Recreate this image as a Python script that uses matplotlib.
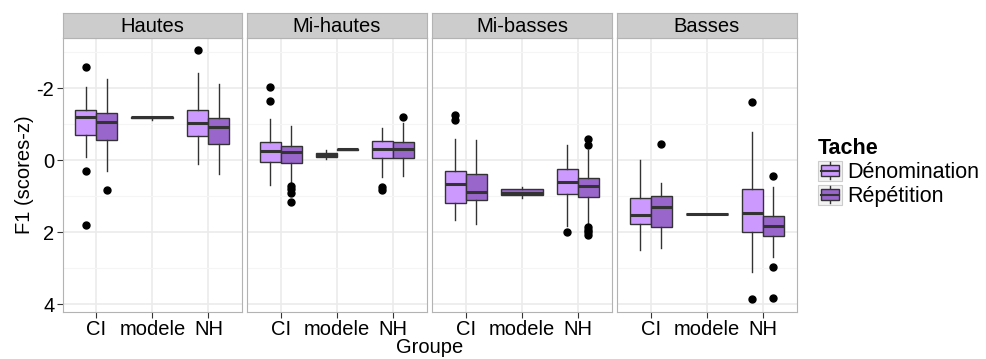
import matplotlib
matplotlib.use('Agg')
import matplotlib.pyplot as plt
from matplotlib.patches import Patch, Rectangle
from matplotlib.lines import Line2D
from matplotlib.legend_handler import HandlerBase

plt.rcParams['font.family'] = ['Liberation Sans', 'DejaVu Sans']

panels = ['Hautes', 'Mi-hautes', 'Mi-basses', 'Basses']
groupes = ['CI', 'modele', 'NH']
taches = ['Dénomination', 'Répétition']
fill_colors = {'Dénomination': '#CC99FF', 'Répétition': '#9966CC'}

# (groupe, tache, whislo, q1, med, q3, whishi, outliers)
hautes = [
    ('CI', 'Dénomination', -2.03, -1.40, -1.22, -0.71, -0.11, [-2.59, 0.28, 1.78]),
    ('CI', 'Répétition', -2.26, -1.31, -1.08, -0.57, 0.28, [0.81]),
    ('modele', 'Dénomination', -1.22, -1.21, -1.20, -1.18, -1.13, []),
    ('NH', 'Dénomination', -2.44, -1.41, -1.04, -0.67, 0.10, [-3.07]),
    ('NH', 'Répétition', -2.13, -1.18, -0.92, -0.46, 0.37, []),
]
mi_hautes = [
    ('CI', 'Dénomination', -1.15, -0.52, -0.25, 0.04, 0.69, [-2.03, -1.64]),
    ('CI', 'Répétition', -0.97, -0.41, -0.24, 0.06, 0.61, [0.70, 0.80, 0.89, 1.15]),
    ('modele', 'Dénomination', -0.28, -0.22, -0.16, -0.09, -0.04, []),
    ('modele', 'Répétition', -0.32, -0.31, -0.31, -0.30, -0.30, []),
    ('NH', 'Dénomination', -0.90, -0.53, -0.33, -0.07, 0.46, [0.74, 0.81]),
    ('NH', 'Répétition', -1.04, -0.50, -0.32, -0.07, 0.44, [-1.20]),
]
mi_basses = [
    ('CI', 'Dénomination', -0.59, 0.30, 0.65, 1.19, 1.65, [-1.26, -1.13]),
    ('CI', 'Répétition', -0.57, 0.37, 0.87, 1.09, 1.77, []),
    ('modele', 'Répétition', 0.74, 0.80, 0.89, 0.96, 1.03, []),
    ('NH', 'Dénomination', -0.44, 0.24, 0.61, 0.93, 1.83, [1.99]),
    ('NH', 'Répétition', -0.28, 0.48, 0.70, 1.02, 1.79, [-0.59, -0.44, 1.85, 1.93, 2.00, 2.06]),
]
basses = [
    ('CI', 'Dénomination', 0.00, 1.04, 1.52, 1.77, 2.50, []),
    ('CI', 'Répétition', 0.62, 1.00, 1.28, 1.84, 2.44, [-0.46]),
    ('modele', 'Dénomination', 1.49, 1.49, 1.49, 1.49, 1.49, []),
    ('NH', 'Dénomination', -0.78, 0.80, 1.46, 1.99, 3.09, [-1.63, 3.85]),
    ('NH', 'Répétition', 0.74, 1.54, 1.81, 2.09, 2.67, [0.43, 2.96, 3.81]),
]
panel_data = [hautes, mi_hautes, mi_basses, basses]

line_col = '#333333'


# legend key drawn as a small boxplot, like ggplot does
class BoxKey(HandlerBase):
    def create_artists(self, legend, orig_handle, xdescent, ydescent, width, height, fontsize, trans):
        x0, y0 = -xdescent, -ydescent
        bg = Rectangle((x0, y0), width, height, facecolor='#F2F2F2', edgecolor='#CCCCCC',
                       linewidth=0.8, transform=trans)
        cx = x0 + width / 2
        whisk = Line2D([cx, cx], [y0 + 1, y0 + height - 1], color=line_col, linewidth=1.0, transform=trans)
        box = Rectangle((x0 + 2, y0 + height * 0.22), width - 4, height * 0.56,
                        facecolor=orig_handle.get_facecolor(), edgecolor=line_col,
                        linewidth=1.0, transform=trans)
        med = Line2D([x0 + 2, x0 + width - 2], [y0 + height / 2] * 2, color=line_col,
                     linewidth=1.5, transform=trans)
        return [bg, whisk, box, med]


fig = plt.figure(figsize=(9.86, 3.59), dpi=100)
W, H = 986.0, 359.0
panel_x = [62.7, 247.3, 432.3, 617.3]
panel_w = 179.3
top_px, bot_px, strip_top = 37.7, 311.7, 13.3

for k, name in enumerate(panels):
    left = panel_x[k] / W
    ax = fig.add_axes([left, 1 - bot_px / H, panel_w / W, (bot_px - top_px) / H])
    rows = panel_data[k]
    stats, pos, widths, cols = [], [], [], []
    for g_i, g in enumerate(groupes):
        sub = [r for r in rows if r[0] == g]
        for j, r in enumerate(sub):
            if len(sub) == 1:
                p, w = g_i + 1, 0.75
            else:
                p, w = g_i + 1 + (j - 0.5) * 0.375, 0.375
            stats.append(dict(whislo=r[2], q1=r[3], med=r[4], q3=r[5], whishi=r[6], fliers=r[7]))
            pos.append(p)
            widths.append(w)
            cols.append(fill_colors[r[1]])
    bp = ax.bxp(stats, positions=pos, widths=widths, patch_artist=True,
                showcaps=False, manage_ticks=False,
                boxprops=dict(edgecolor=line_col, linewidth=1.0),
                whiskerprops=dict(color=line_col, linewidth=1.0),
                medianprops=dict(color=line_col, linewidth=2.2),
                flierprops=dict(marker='o', markerfacecolor='black', markeredgecolor='black',
                                markersize=5, linestyle='none'))
    for patch, c in zip(bp['boxes'], cols):
        patch.set_facecolor(c)

    ax.set_xlim(0.4, 3.6)
    ax.set_ylim(4.2, -3.41)
    ax.set_xticks([1, 2, 3])
    ax.set_xticklabels(groupes)
    ax.set_yticks([-2, 0, 2, 4])
    ax.set_yticks([-3, -1, 1, 3], minor=True)
    ax.set_xticks([], minor=True)
    ax.grid(which='major', color='#EBEBEB', linewidth=1.2)
    ax.grid(which='minor', axis='y', color='#F5F5F5', linewidth=0.8)
    ax.set_axisbelow(True)
    ax.tick_params(which='major', length=4, color=line_col, labelsize=14.5, labelcolor='black', pad=2)
    ax.tick_params(which='minor', length=0)
    if k == 0:
        ax.set_yticklabels(['-2', '0', '2', '4'])
        ax.set_ylabel('F1 (scores-z)', fontsize=14.5, labelpad=2)
    else:
        ax.set_yticklabels([])
        ax.tick_params(axis='y', length=0)
    for s in ax.spines.values():
        s.set_color('#B3B3B3')
        s.set_linewidth(0.8)

    sax = fig.add_axes([left, 1 - top_px / H, panel_w / W, (top_px - strip_top) / H])
    sax.set_facecolor('#CCCCCC')
    sax.set_xticks([])
    sax.set_yticks([])
    for s in sax.spines.values():
        s.set_color('#B3B3B3')
        s.set_linewidth(0.8)
    sax.text(0.5, 0.45, name, ha='center', va='center', fontsize=14.5, transform=sax.transAxes)

fig.text(430 / W, 0.005, 'Groupe', ha='center', va='bottom', fontsize=14.5)

handles = [Patch(facecolor=fill_colors[t], edgecolor=line_col) for t in taches]
leg = fig.legend(handles, taches, loc='upper left', bbox_to_anchor=(818 / W, 1 - 138 / H),
                 frameon=False, fontsize=15.5, handlelength=1.1, handleheight=1.05,
                 labelspacing=0.08, handletextpad=0.25, borderaxespad=0, borderpad=0,
                 title='Tache', title_fontproperties={'weight': 'bold', 'size': 15.5},
                 alignment='left', handler_map={Patch: BoxKey()})

fig.savefig('out.png', dpi=100)
